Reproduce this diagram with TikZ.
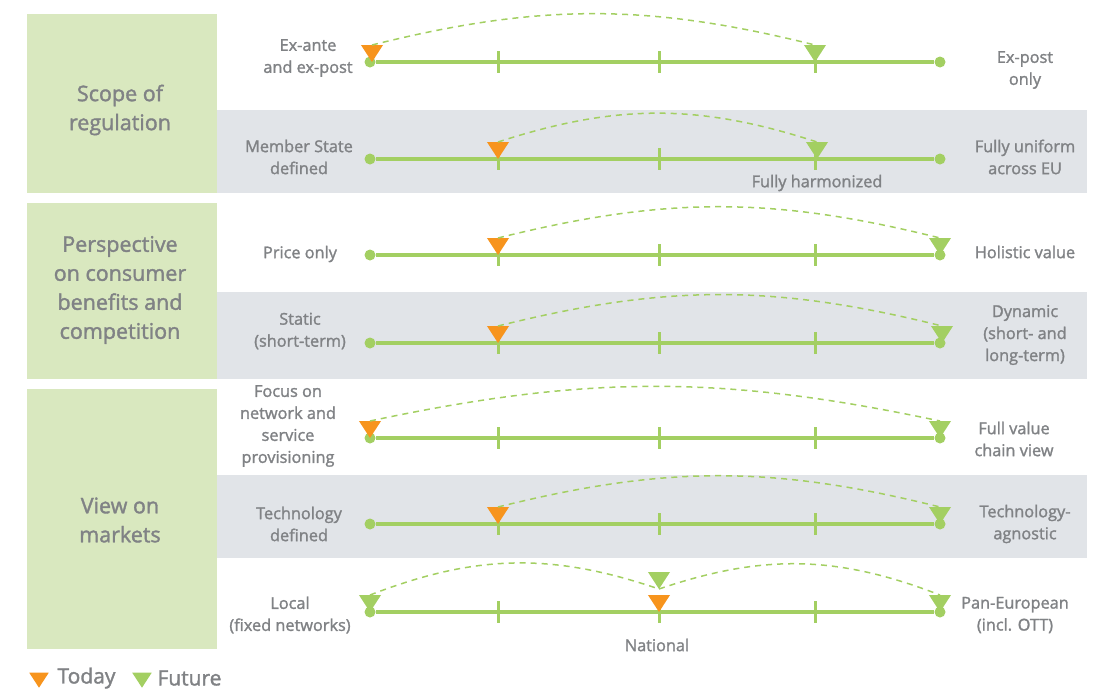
\documentclass[tikz,border=0pt]{standalone}
\usepackage{fontspec}
\setmainfont{Open Sans}[UprightFeatures={FakeBold=1.6}]
\usetikzlibrary{shapes.geometric,positioning}
\definecolor{boxgreen}{HTML}{D9E8BF}
\definecolor{bandgray}{HTML}{E1E4E8}
\definecolor{linegreen}{HTML}{A3CF62}
\definecolor{todayorange}{HTML}{F7941D}
\definecolor{textgray}{HTML}{808285}
\begin{document}
\begin{tikzpicture}[x=1pt,y=-1pt,
				label/.style={align=center,text=textgray,font=\fontsize{16.3}{22}\selectfont},
				title/.style={align=center,text=textgray,font=\fontsize{21.5}{29}\selectfont},
				legend/.style={text=textgray,font=\fontsize{21}{24}\selectfont,inner sep=0pt},
				scaleline/.style={draw=linegreen,line width=3.3pt},
				enddot/.style={circle,fill=linegreen,inner sep=0pt,minimum size=11pt},
				marker/.style={isosceles triangle,isosceles triangle apex angle=66,shape border rotate=270,
					inner sep=0pt,outer sep=0pt,minimum size=17pt,anchor=apex},
				today/.style={marker,fill=todayorange},
				future/.style={marker,fill=linegreen},
				arc/.style={draw=linegreen,line width=1.5pt,dash pattern=on 6pt off 5pt}]
\useasboundingbox (0,0) rectangle (1097,689);
% backgrounds
\fill[boxgreen] (27,14) rectangle (217,193);
\fill[boxgreen] (27,203) rectangle (217,379);
\fill[boxgreen] (27,389) rectangle (217,649);
\fill[bandgray] (217,110) rectangle (1087,193);
\fill[bandgray] (217,292) rectangle (1087,379);
\fill[bandgray] (217,475) rectangle (1087,558);
% section titles
\node[title] (s1) at (120,110) {Scope of\\regulation};
\node[title] (s2) at (120,290) {Perspective\\on consumer\\benefits and\\competition};
\node[title] (s3) at (120,520) {View on\\markets};
% scales
\foreach \r/\y in {1/62,2/159,3/255,4/343,5/438,6/524,7/612}{
	\node[enddot] (a\r) at (370,\y) {};
	\node[enddot] (b\r) at (940,\y) {};
	\draw[scaleline] (a\r) -- (b\r);
	\foreach \x in {498,659,815}
		\draw[scaleline,line width=3pt] (\x,\y-11) -- (\x,\y+11);
}
% left ends
\node[label] (l1) at (308,58) {Ex-ante\\and ex-post};
\node[label] (l2) at (299,157) {Member State\\defined};
\node[label] (l3) at (300,254) {Price only};
\node[label] (l4) at (300,331) {Static\\(short-term)};
\node[label] (l5) at (288,426) {Focus on\\network and\\service\\provisioning};
\node[label] (l6) at (299,524) {Technology\\defined};
\node[label] (l7) at (290,615) {Local\\(fixed networks)};
% right ends
\node[label] (r1) at (1025,70) {Ex-post\\only};
\node[label] (r2) at (1025,157) {Fully uniform\\across EU};
\node[label] (r3) at (1025,252) {Holistic value};
\node[label] (r4) at (1025,335) {Dynamic\\(short- and\\long-term)};
\node[label] (r5) at (1014,439) {Full value\\chain view};
\node[label] (r6) at (1025,524) {Technology-\\agnostic};
\node[label] (r7) at (1015,615) {Pan-European\\(incl. OTT)};
% middle labels
\node[label] (h2) at (817,183) {Fully harmonized};
\node[label] (n7) at (657,645) {National};
% today and future
\node[today] (t1) at (372,62) {};
\node[future] (f1) at (815,62) {};
\node[today] (t2) at (498,159) {};
\node[future] (f2) at (817,159) {};
\node[today] (t3) at (498,255) {};
\node[future] (f3) at (940,255) {};
\node[today] (t4) at (498,343) {};
\node[future] (f4) at (942,343) {};
\node[today] (t5) at (370,438) {};
\node[future] (f5) at (940,438) {};
\node[today] (t6) at (498,524) {};
\node[future] (f6) at (940,524) {};
\node[future] (fl7) at (370,612) {};
\node[future] (fr7) at (940,612) {};
\node[today] (t7) at (659,612) {};
\node[future] (m7) at (659,589) {};
% shifts
\draw[arc] (t1.north) to[bend left=14] (f1.north);
\draw[arc] (t2.north) to[bend left=18] (f2.north);
\draw[arc] (t3.north) to[bend left=14] (f3.north);
\draw[arc] (t4.north) to[bend left=14] (f4.north);
\draw[arc] (t5.north) to[bend left=12] (f5.north);
\draw[arc] (t6.north) to[bend left=14] (f6.north);
\draw[arc] (fl7.north) to[bend left=20] (m7.apex);
\draw[arc] (m7.apex) to[bend left=20] (fr7.north);
% legend
\node[today,anchor=center,minimum size=15pt] (lt) at (39,678) {};
\node[legend,right=12pt of lt] (lt text) {Today};
\node[future,anchor=center,minimum size=15pt,right=20pt of lt text] (lf) {};
\node[legend,right=9pt of lf] (lf text) {Future};
\end{tikzpicture}
\end{document}
